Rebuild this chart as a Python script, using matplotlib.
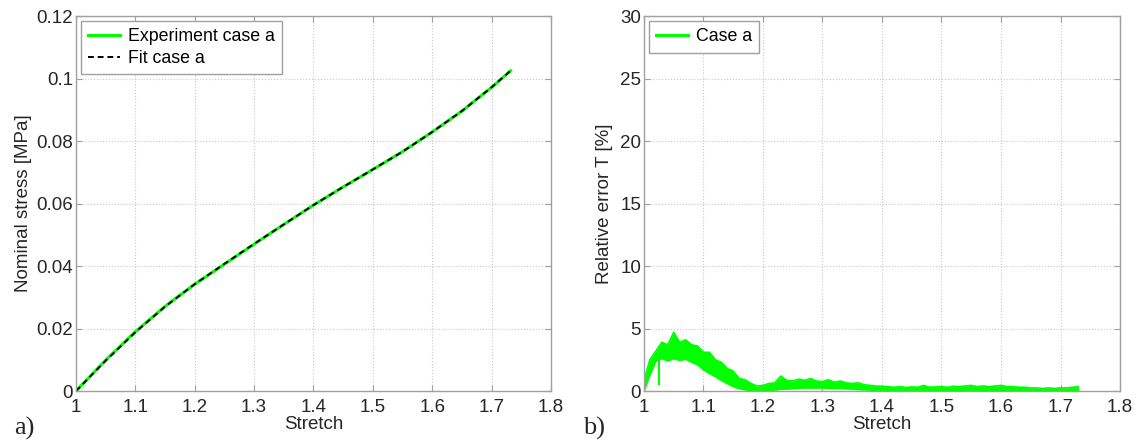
import matplotlib
matplotlib.use("Agg")
import matplotlib.pyplot as plt

plt.rcParams["font.family"] = ["Liberation Sans", "DejaVu Sans"]

# panel a) nominal stress vs stretch
stretch = [1.0, 1.05, 1.1, 1.15, 1.2, 1.25, 1.3, 1.35, 1.4, 1.45, 1.5,
           1.55, 1.6, 1.65, 1.7, 1.732]
stress_exp = [0.0, 0.0099, 0.0190, 0.0271, 0.0342, 0.0406, 0.0470, 0.0533,
              0.0595, 0.0653, 0.0709, 0.0766, 0.0829, 0.0896, 0.0972, 0.1025]
stress_fit = [0.0, 0.0097, 0.0188, 0.0270, 0.0342, 0.0407, 0.0471, 0.0533,
              0.0595, 0.0653, 0.0709, 0.0766, 0.0829, 0.0896, 0.0972, 0.1025]

# panel b) relative error band (upper / lower edge of the noisy trace),
# read every 0.01 in stretch from 1.00 to 1.73
err_stretch = [1.00, 1.01, 1.02, 1.03, 1.04, 1.05, 1.06, 1.07, 1.08, 1.09,
               1.10, 1.11, 1.12, 1.13, 1.14, 1.15, 1.16, 1.17, 1.18, 1.19,
               1.20, 1.21, 1.22, 1.23, 1.24, 1.25, 1.26, 1.27, 1.28, 1.29,
               1.30, 1.31, 1.32, 1.33, 1.34, 1.35, 1.36, 1.37, 1.38, 1.39,
               1.40, 1.41, 1.42, 1.43, 1.44, 1.45, 1.46, 1.47, 1.48, 1.49,
               1.50, 1.51, 1.52, 1.53, 1.54, 1.55, 1.56, 1.57, 1.58, 1.59,
               1.60, 1.61, 1.62, 1.63, 1.64, 1.65, 1.66, 1.67, 1.68, 1.69,
               1.70, 1.71, 1.72, 1.73]
err_upper = [0.9, 2.5, 3.2, 3.9, 3.7, 4.7, 3.9, 4.1, 3.7, 3.6,
             3.1, 3.1, 2.5, 2.3, 1.8, 1.6, 1.0, 0.9, 0.6, 0.4,
             0.45, 0.6, 0.65, 1.2, 0.85, 0.8, 0.95, 0.85, 1.0, 0.8,
             0.75, 0.9, 0.7, 0.8, 0.65, 0.6, 0.65, 0.5, 0.45, 0.4,
             0.38, 0.35, 0.3, 0.35, 0.28, 0.33, 0.3, 0.45, 0.3, 0.33,
             0.35, 0.3, 0.38, 0.35, 0.4, 0.45, 0.35, 0.4, 0.35, 0.4,
             0.45, 0.35, 0.35, 0.3, 0.3, 0.25, 0.25, 0.2, 0.25, 0.2,
             0.25, 0.25, 0.3, 0.35]
err_lower = [0.0, 1.3, 2.4, 2.6, 2.4, 2.6, 2.45, 2.55, 2.3, 2.1,
             1.7, 1.4, 1.15, 0.85, 0.6, 0.35, 0.2, 0.1, 0.05, 0.02,
             0.0, 0.05, 0.08, 0.15, 0.15, 0.2, 0.22, 0.25, 0.25, 0.25,
             0.25, 0.22, 0.2, 0.2, 0.18, 0.15, 0.12, 0.1, 0.08, 0.06,
             0.05, 0.05, 0.04, 0.05, 0.06, 0.05, 0.04, 0.05, 0.05, 0.06,
             0.05, 0.04, 0.05, 0.06, 0.05, 0.05, 0.04, 0.05, 0.06, 0.05,
             0.05, 0.04, 0.05, 0.05, 0.04, 0.03, 0.04, 0.03, 0.03, 0.04,
             0.03, 0.04, 0.05, 0.05]
# single downward spike of the trace
spike_stretch = 1.025
spike_low, spike_high = 0.45, 2.6

x_ticks = [1, 1.1, 1.2, 1.3, 1.4, 1.5, 1.6, 1.7, 1.8]
x_ticklabels = ["1", "1.1", "1.2", "1.3", "1.4", "1.5", "1.6", "1.7", "1.8"]
stress_ticks = [0, 0.02, 0.04, 0.06, 0.08, 0.1, 0.12]
stress_ticklabels = ["0", "0.02", "0.04", "0.06", "0.08", "0.1", "0.12"]
err_ticks = [0, 5, 10, 15, 20, 25, 30]

GREEN = "#00ff00"
AXC = "#a0a0a0"
TXT = "#262626"
FS = 13.5

fig = plt.figure(figsize=(11.41, 4.48), dpi=100)
ax1 = fig.add_axes([0.0666, 0.1272, 0.4163, 0.837])
ax2 = fig.add_axes([0.5644, 0.1272, 0.4172, 0.837])


def style(ax):
    for s in ax.spines.values():
        s.set_color(AXC)
        s.set_linewidth(1.0)
    ax.tick_params(direction="in", colors=AXC, labelcolor=TXT, labelsize=FS,
                   length=4, top=True, right=True, pad=2)
    ax.tick_params(axis="x", pad=6)
    ax.grid(True, color="#c8c8c8", linestyle=":", linewidth=0.8)
    ax.set_axisbelow(True)
    ax.set_xlim(1, 1.8)
    ax.set_xticks(x_ticks)
    ax.set_xticklabels(x_ticklabels)
    ax.set_xlabel("Stretch", fontsize=FS, color=TXT, labelpad=0)


ax1.plot(stretch, stress_exp, color=GREEN, lw=2.2, label="Experiment case a")
ax1.plot(stretch, stress_fit, color="black", lw=1.4, ls=(0, (3, 2)),
         label="Fit case a")
style(ax1)
ax1.set_ylim(0, 0.12)
ax1.set_yticks(stress_ticks)
ax1.set_yticklabels(stress_ticklabels)
ax1.set_ylabel("Nominal stress [MPa]", fontsize=FS, color=TXT, labelpad=3)
leg1 = ax1.legend(loc="upper left", fontsize=12.8, fancybox=False,
                  framealpha=1, edgecolor=AXC, handlelength=1.8,
                  borderaxespad=0.3, labelspacing=0.25, handletextpad=0.4,
                  borderpad=0.4)
leg1.get_frame().set_linewidth(1.0)

ax2.fill_between(err_stretch, err_lower, err_upper, color=GREEN, lw=0)
ax2.plot(err_stretch, err_upper, color=GREEN, lw=1.2, label="Case a")
ax2.plot(err_stretch, err_lower, color=GREEN, lw=1.2)
ax2.vlines(spike_stretch, spike_low, spike_high, color=GREEN, lw=1.5)
style(ax2)
ax2.set_ylim(0, 30)
ax2.set_yticks(err_ticks)
ax2.set_ylabel("Relative error T [%]", fontsize=FS, color=TXT, labelpad=5)
leg2 = ax2.legend(loc="upper left", fontsize=12.8, fancybox=False,
                  framealpha=1, edgecolor=AXC, handlelength=1.8,
                  borderaxespad=0.3, handletextpad=0.4, borderpad=0.4)
leg2.get_frame().set_linewidth(1.0)
leg2.get_lines()[0].set_linewidth(2.2)

fig.text(0.012, 0.03, "a)", fontsize=19, family="Liberation Serif", color=TXT)
fig.text(0.511, 0.03, "b)", fontsize=19, family="Liberation Serif", color=TXT)

fig.savefig("out.png", dpi=100)
